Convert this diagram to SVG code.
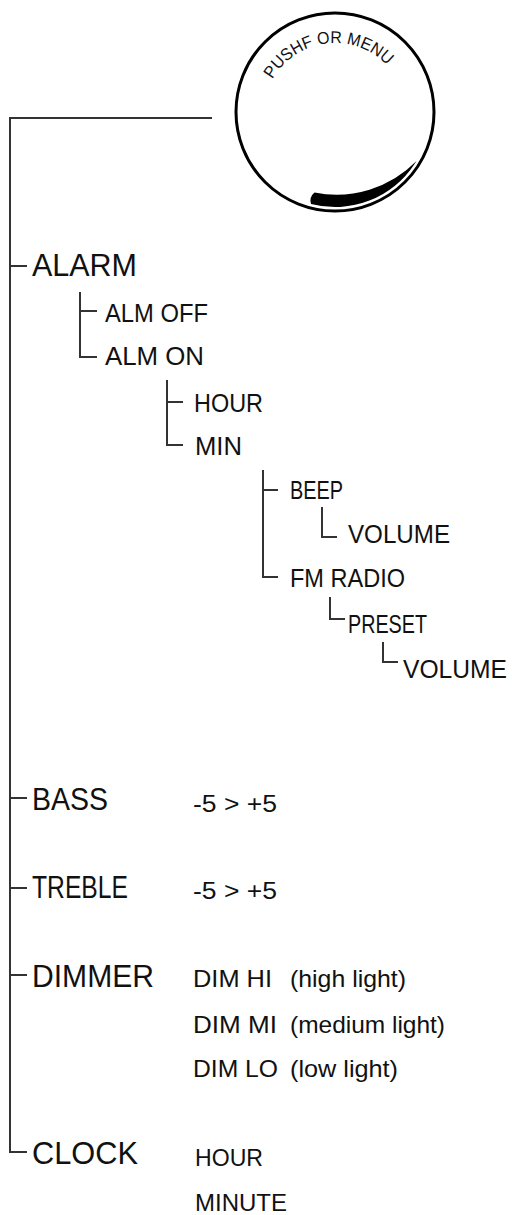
<svg xmlns="http://www.w3.org/2000/svg" width="512" height="1215" viewBox="0 0 512 1215">
<style>
text{font-family:"Liberation Sans",Arial,sans-serif;fill:#111}
.main{font-size:31px}
.sub{font-size:25px}
.val{font-size:24px}
.knobtxt{font-size:17px}
.ln{fill:none;stroke:#333;stroke-width:2}
</style>
<defs>
<path id="arc" d="M271,82 A72,72 0 0 1 399,82"/>
</defs>
<rect width="512" height="1215" fill="#fff"/>
<g id="knob">
<circle cx="335" cy="112" r="99" fill="#fff" stroke="#000" stroke-width="3"/>
<text class="knobtxt"><textPath href="#arc" startOffset="3" textLength="134" lengthAdjust="spacingAndGlyphs">PUSHF OR MENU</textPath></text>
<path d="M311,204 A95,95 0 0 0 414.7,163.7 L416.5,161 A112,112 0 0 1 314.5,192.5 Q309,197 311,204 Z" fill="#000"/>
</g>
<g id="connectors" class="ln">
<path d="M212,118 H10 V1152 H27"/>
<path d="M10,266 H27 M10,798 H27 M10,888 H27 M10,975 H27"/>
<path d="M80,292 V357 H97 M80,311 H97"/>
<path d="M167,380 V445 H183 M167,402 H183"/>
<path d="M263,470 V577 H278 M263,490 H278"/>
<path d="M322,507 V537 H337"/>
<path d="M330,597 V619 H345"/>
<path d="M383,642 V662 H398"/>
</g>
<g id="alarm"><text class="main" x="32" y="276" textLength="105" lengthAdjust="spacingAndGlyphs">ALARM</text></g>
<g id="alm-off"><text class="sub" x="105" y="322" textLength="103" lengthAdjust="spacingAndGlyphs">ALM OFF</text></g>
<g id="alm-on"><text class="sub" x="105" y="365" textLength="99" lengthAdjust="spacingAndGlyphs">ALM ON</text></g>
<g id="alm-hour"><text class="sub" x="194" y="412" textLength="69" lengthAdjust="spacingAndGlyphs">HOUR</text></g>
<g id="alm-min"><text class="sub" x="195" y="455" textLength="47" lengthAdjust="spacingAndGlyphs">MIN</text></g>
<g id="beep"><text class="sub" x="290" y="499" textLength="53" lengthAdjust="spacingAndGlyphs">BEEP</text></g>
<g id="beep-volume"><text class="sub" x="348" y="543" textLength="102" lengthAdjust="spacingAndGlyphs">VOLUME</text></g>
<g id="fm-radio"><text class="sub" x="290" y="587" textLength="115" lengthAdjust="spacingAndGlyphs">FM RADIO</text></g>
<g id="preset"><text class="sub" x="348" y="633" textLength="79" lengthAdjust="spacingAndGlyphs">PRESET</text></g>
<g id="preset-volume"><text class="sub" x="403" y="678" textLength="104" lengthAdjust="spacingAndGlyphs">VOLUME</text></g>
<g id="bass">
<text class="main" x="32" y="810" textLength="76" lengthAdjust="spacingAndGlyphs">BASS</text>
<text class="val" x="193" y="812" textLength="84" lengthAdjust="spacingAndGlyphs">-5 &gt; +5</text>
</g>
<g id="treble">
<text class="main" x="32" y="898" textLength="96" lengthAdjust="spacingAndGlyphs">TREBLE</text>
<text class="val" x="193" y="899" textLength="84" lengthAdjust="spacingAndGlyphs">-5 &gt; +5</text>
</g>
<g id="dimmer">
<text class="main" x="32" y="987" textLength="122" lengthAdjust="spacingAndGlyphs">DIMMER</text>
<text class="val" x="193" y="987" textLength="79" lengthAdjust="spacingAndGlyphs">DIM HI</text>
<text class="val" x="290" y="987" textLength="116" lengthAdjust="spacingAndGlyphs">(high light)</text>
<text class="val" x="193" y="1033" textLength="84" lengthAdjust="spacingAndGlyphs">DIM MI</text>
<text class="val" x="290" y="1033" textLength="155" lengthAdjust="spacingAndGlyphs">(medium light)</text>
<text class="val" x="193" y="1077" textLength="85" lengthAdjust="spacingAndGlyphs">DIM LO</text>
<text class="val" x="290" y="1077" textLength="108" lengthAdjust="spacingAndGlyphs">(low light)</text>
</g>
<g id="clock">
<text class="main" x="32" y="1164" textLength="106" lengthAdjust="spacingAndGlyphs">CLOCK</text>
<text class="val" x="195" y="1166" textLength="68" lengthAdjust="spacingAndGlyphs">HOUR</text>
<text class="val" x="195" y="1211" textLength="92" lengthAdjust="spacingAndGlyphs">MINUTE</text>
</g>
</svg>
